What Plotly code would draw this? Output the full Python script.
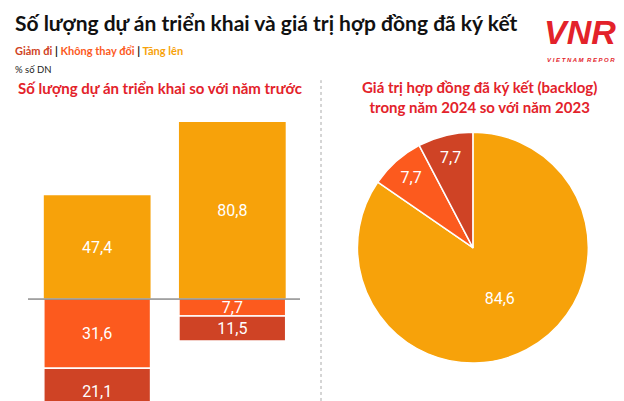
import plotly.graph_objects as go

# data
columns = ["c1", "c2"]
tang_len = [47.4, 80.8]
khong_doi = [31.6, 7.7]
giam_di = [21.1, 11.5]

pie_labels = ["Tăng lên", "Không thay đổi", "Giảm đi"]
pie_values = [84.6, 7.7, 7.7]

ORANGE = "#F7A20A"
ORANGE_RED = "#FC5A1E"
DARK_RED = "#CF4325"
RED = "#E3222A"

fig = go.Figure()

x_idx = [0, 1]
bar_font = dict(family="Roboto", size=16, color="white")
fmt = lambda vals: [f"{v:.1f}".replace(".", ",") for v in vals]
fig.add_trace(go.Bar(x=x_idx, y=tang_len, base=0, marker_color=ORANGE, width=0.79,
                     text=fmt(tang_len), textposition="inside", insidetextanchor="middle",
                     textfont=bar_font, constraintext="none",
                     marker_line_width=0, hoverinfo="skip"))
fig.add_trace(go.Bar(x=x_idx, y=[-v for v in khong_doi], base=0, marker_color=ORANGE_RED, width=0.79,
                     text=fmt(khong_doi), textposition="inside", insidetextanchor="middle",
                     textfont=bar_font, constraintext="none",
                     marker_line=dict(color="white", width=1.5), hoverinfo="skip"))
fig.add_trace(go.Bar(x=x_idx, y=[-v for v in giam_di], base=[-v for v in khong_doi],
                     marker_color=DARK_RED, width=0.79,
                     text=fmt(giam_di), textposition="inside", insidetextanchor="middle",
                     textfont=bar_font, constraintext="none",
                     marker_line=dict(color="white", width=1.5), hoverinfo="skip"))

fig.add_trace(go.Pie(labels=pie_labels, values=pie_values, sort=False, direction="clockwise",
                     rotation=0, marker=dict(colors=[ORANGE, ORANGE_RED, DARK_RED],
                                             line=dict(color="white", width=1.5)),
                     texttemplate="%{value:.1f}", textinfo="value",
                     textposition="inside", insidetextorientation="horizontal",
                     textfont=dict(family="Roboto", size=16, color="white"),
                     domain=dict(x=[0.56, 0.93], y=[0.11, 0.695]), hoverinfo="skip"))

fig.update_layout(
    width=624, height=401, margin=dict(l=0, r=0, t=0, b=0),
    paper_bgcolor="white", plot_bgcolor="white", showlegend=False,
    barmode="overlay", separators=",.",
    xaxis=dict(domain=[0, 300 / 624], range=[-0.66, 1.56], visible=False),
    yaxis=dict(domain=[0, 1], range=[-50.2, 132.9], visible=False),
    font=dict(family="Lato"),
)

fig.add_shape(type="line", xref="paper", yref="y", x0=20 / 624, x1=292 / 624, y0=0, y1=0,
              line=dict(color="#555555", width=1), layer="above")
fig.add_shape(type="line", xref="paper", yref="paper", x0=313 / 624, x1=313 / 624, y0=0.02, y1=0.82,
              line=dict(color="#aaaaaa", width=1, dash="dot"))

fig.add_annotation(x=0.008, y=1.0, xref="paper", yref="paper", xanchor="left", yanchor="top",
                   text="<b>Số lượng dự án triển khai và giá trị hợp đồng đã ký kết</b>", showarrow=False,
                   font=dict(family="Lato", size=21, color="#111111"))
fig.add_annotation(x=0.008, y=0.915, xref="paper", yref="paper", xanchor="left", yanchor="top",
                   text=f"<b><span style='color:{DARK_RED}'>Giảm đi</span> <span style='color:#111'>|</span> "
                        f"<span style='color:{ORANGE_RED}'>Không thay đổi</span> <span style='color:#111'>|</span> "
                        f"<span style='color:{ORANGE}'>Tăng lên</span></b>",
                   showarrow=False, font=dict(family="Lato", size=11))
fig.add_annotation(x=0.008, y=0.865, xref="paper", yref="paper", xanchor="left", yanchor="top",
                   text="% số DN", showarrow=False, font=dict(family="Lato", size=9.5, color="#222"))
fig.add_annotation(x=152 / 624, y=1 - 80 / 401, xref="paper", yref="paper",
                   xanchor="center", yanchor="middle",
                   text="<b>Số lượng dự án triển khai so với năm trước</b>", showarrow=False,
                   font=dict(family="Lato", size=15, color=RED))
fig.add_annotation(x=471 / 624, y=1 - 89 / 401, xref="paper", yref="paper",
                   xanchor="center", yanchor="middle",
                   text="<b>Giá trị hợp đồng đã ký kết (backlog)<br>trong năm 2024 so với năm 2023</b>",
                   showarrow=False, align="center",
                   font=dict(family="Lato", size=15, color=RED))
# logo
fig.add_annotation(x=572 / 624, y=1 - 24 / 401, xref="paper", yref="paper",
                   xanchor="center", yanchor="middle",
                   text="<b><i>VNR</i></b>", showarrow=False,
                   font=dict(family="Liberation Sans", size=34, color=RED))
fig.add_annotation(x=576 / 624, y=1 - 52 / 401, xref="paper", yref="paper",
                   xanchor="center", yanchor="middle",
                   text="<b><i>V I E T N A M  R E P O R T</i></b>", showarrow=False,
                   font=dict(family="Liberation Sans", size=6, color=RED))

fig.write_html("out.html")
